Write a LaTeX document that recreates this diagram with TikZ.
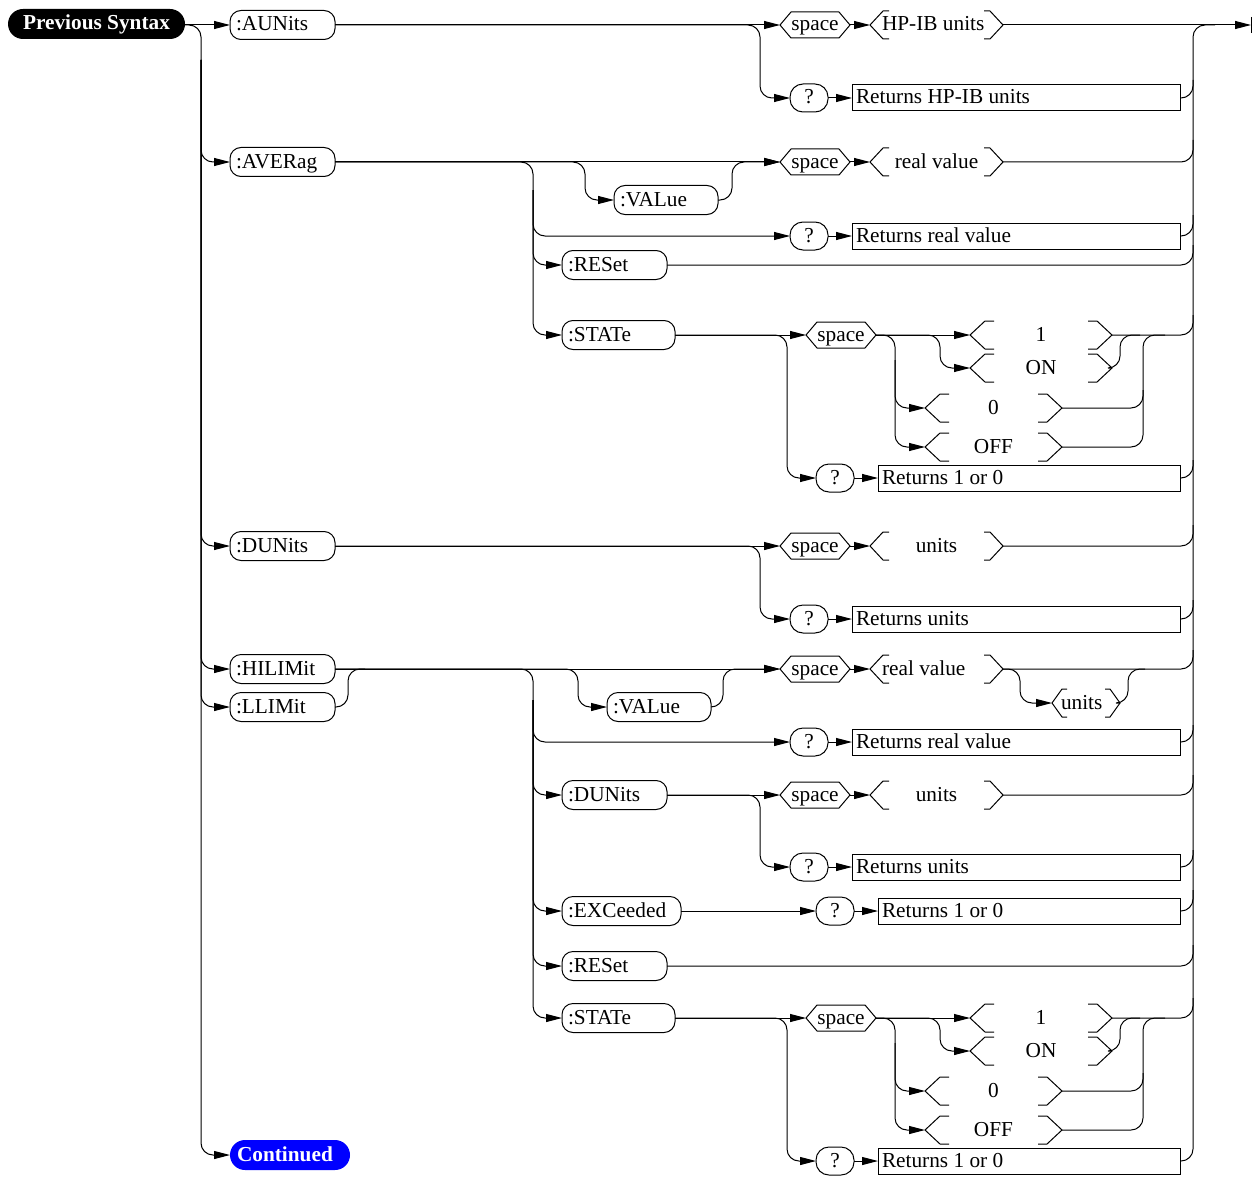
\documentclass[tikz,border=0pt]{standalone}
\usepackage{fontspec}
\setmainfont{Liberation Serif}
\usetikzlibrary{arrows.meta}
\newcommand\hexo[1]{\draw[ln] (#1.west) -- ([xshift=11pt]#1.north west) -- ([xshift=-11pt]#1.north east) -- (#1.east) -- ([xshift=-11pt]#1.south east) -- ([xshift=11pt]#1.south west) -- cycle;}
\newcommand\brkt[3]{%
 \draw[ln] ([xshift=#3pt]#1.north west) -- ([xshift=#2pt]#1.north west) -- (#1.west) -- ([xshift=#2pt]#1.south west) -- ([xshift=#3pt]#1.south west);
 \draw[ln] ([xshift=-#3pt]#1.north east) -- ([xshift=-#2pt]#1.north east) -- (#1.east) -- ([xshift=-#2pt]#1.south east) -- ([xshift=-#3pt]#1.south east);}
\begin{document}
\begin{tikzpicture}[x=1pt,y=-1pt,
  every node/.style={outer sep=0pt, text height=16pt, text depth=4pt, font=\fontsize{21.3}{24}\selectfont},
  ln/.style={line width=1pt},
  conn/.style={ln, rounded corners=12pt},
  arr/.style={conn, -{Triangle[length=16pt,width=8pt]}},
  pill/.style={draw, ln, rounded corners=11pt, minimum height=29pt, inner xsep=6pt, inner ysep=0pt, text width=#1, align=flush left, anchor=west},
  qpill/.style={draw, ln, rounded corners=13pt, minimum width=38pt, minimum height=28pt, inner sep=0pt, anchor=west},
  rbox/.style={draw, ln, minimum height=26pt, inner xsep=4pt, inner ysep=0pt, text width=#1, align=flush left, anchor=west},
  hexbox/.style={minimum width=70pt, minimum height=26pt, inner sep=0pt, anchor=west},
  brk/.style={minimum height=28pt, inner xsep=12pt, inner ysep=0pt, text width=#1, anchor=west},
  headpill/.style={rounded corners=15pt, minimum height=30pt, inner sep=0pt, text=white, font=\bfseries\fontsize{21.3}{24}\selectfont}
]
\useasboundingbox (0,0) rectangle (1257,1177);

% ---------- left column
\node[headpill, fill=black, minimum width=177pt] (ps) at (96.5,24) {Previous Syntax};
\node[pill=93pt] (aunits) at (230,25) {:AUNits};
\node[pill=93pt] (averag) at (230,162) {:AVERag};
\node[pill=93pt] (dunits) at (230,546) {:DUNits};
\node[pill=93pt] (hilimit) at (230,669) {:HILIMit};
\node[pill=93pt] (llimit) at (230,707) {:LLIMit};
\node[headpill, fill=blue, text width=106pt, inner xsep=7pt, align=flush left, anchor=west] (cont) at (230,1155) {Continued};

\coordinate (lt) at (201,25);
\coordinate (lt2) at (201,60);
\draw[arr] (ps.east |- aunits.west) -- (aunits.west);
\draw[arr] (ps.east |- aunits.west) -- (lt) |- (cont.west);
\draw[arr] (lt2) |- (averag.west);
\draw[arr] (lt2) |- (dunits.west);
\draw[arr] (lt2) |- (hilimit.west);
\draw[arr] (lt2) |- (llimit.west);

% ---------- AUNits
\node[hexbox] (sp1) at (780,25) {space}; \hexo{sp1}
\node[brk=109pt, align=flush left] (hp) at (870,25) {HP-IB units}; \brkt{hp}{13}{19}
\node[qpill] (q1) at (790,98) {?};
\node[rbox=320pt] (b1) at (852,98) {Returns HP-IB units};
\coordinate (endc) at (1251,25);
\draw[arr] (aunits.east) -- (sp1.west);
\draw[arr] (aunits.east) -- (760,25) |- (q1.west);
\draw[arr] (sp1.east) -- (hp.west);
\draw[arr] (hp.east) -- (endc);
\draw[ln] (1251,17) -- (1251,33);
\draw[arr] (q1.east) -- (b1.west);
\draw[conn] (b1.east) -| (1193,80);

% ---------- AVERag
\node[hexbox] (sp2) at (780,162) {space}; \hexo{sp2}
\node[brk=109pt, align=flush center] (rv1) at (870,162) {real value}; \brkt{rv1}{13}{19}
\node[pill=92pt] (val1) at (614,200) {:VALue};
\node[qpill] (q2) at (790,236) {?};
\node[rbox=320pt] (b2) at (852,236) {Returns real value};
\node[pill=93pt] (res1) at (562,265) {:RESet};
\node[pill=101pt] (st1) at (562,335) {:STATe};
\draw[arr] (averag.east) -- (sp2.west);
\draw[arr] (averag.east) -- (585,162) |- (val1.west);
\draw[arr] (val1.east) -| (732,162) -- (sp2.west);
\draw[arr] (sp2.east) -- (rv1.west);
\draw[conn] (rv1.east) -| (1193,140);
\draw[arr] (averag.east) -- (533,162) |- (st1.west);
\draw[arr] (533,190) |- (q2.west);
\draw[arr] (q2.east) -- (b2.west);
\draw[conn] (b2.east) -| (1193,215);
\draw[arr] (533,190) |- (res1.west);
\draw[conn] (res1.east) -| (1193,245);

% ---------- STATe 1
\node[hexbox] (sp3) at (806,335) {space}; \hexo{sp3}
\node[brk=118pt, align=flush center] (one1) at (970,335) {1}; \brkt{one1}{15}{24}
\node[brk=118pt, align=flush center] (on1) at (970,368) {ON}; \brkt{on1}{15}{24}
\node[brk=113pt, align=flush center] (zero1) at (925,408) {0}; \brkt{zero1}{15}{24}
\node[brk=113pt, align=flush center] (off1) at (925,447) {OFF}; \brkt{off1}{15}{24}
\node[qpill] (q3) at (816,478) {?};
\node[rbox=294pt] (b3) at (878,478) {Returns 1 or 0};
\draw[arr] (st1.east) -- (sp3.west);
\draw[arr] (st1.east) -- (787,335) |- (q3.west);
\draw[arr] (q3.east) -- (b3.west);
\draw[conn] (b3.east) -| (1193,460);
\draw[arr] (sp3.east) -- (one1.west);
\draw[arr] (sp3.east) -- (940,335) |- (on1.west);
\draw[arr] (sp3.east) -- (895,335) |- (zero1.west);
\draw[arr] (895,360) |- (off1.west);
\draw[conn] (one1.east) -| (1193,315);
\draw[conn] (on1.east) -| (1120,335) -- (1140,335);
\draw[conn] (zero1.east) -| (1143,335) -- (1165,335);
\draw[conn] (off1.east) -| (1143,390);

% ---------- DUNits
\node[hexbox] (sp4) at (780,546) {space}; \hexo{sp4}
\node[brk=109pt, align=flush center] (un1) at (870,546) {units}; \brkt{un1}{13}{19}
\node[qpill] (q4) at (790,619) {?};
\node[rbox=320pt] (b4) at (852,619) {Returns units};
\draw[arr] (dunits.east) -- (sp4.west);
\draw[arr] (dunits.east) -- (760,546) |- (q4.west);
\draw[arr] (sp4.east) -- (un1.west);
\draw[conn] (un1.east) -| (1193,525);
\draw[arr] (q4.east) -- (b4.west);
\draw[conn] (b4.east) -| (1193,600);

% ---------- HILIMit / LLIMit
\node[hexbox] (sp5) at (780,669) {space}; \hexo{sp5}
\node[brk=109pt, align=flush left] (rv2) at (870,669) {real value}; \brkt{rv2}{13}{19}
\node[brk=50pt, inner xsep=9pt, align=flush left] (un3) at (1052,703) {units}; \brkt{un3}{10}{15}
\node[pill=92pt] (val2) at (607,707) {:VALue};
\node[qpill] (q5) at (790,742) {?};
\node[rbox=320pt] (b5) at (852,742) {Returns real value};
\node[pill=93pt] (du2) at (562,795) {:DUNits};
\node[hexbox] (sp6) at (780,795) {space}; \hexo{sp6}
\node[brk=109pt, align=flush center] (un4) at (870,795) {units}; \brkt{un4}{13}{19}
\node[qpill] (q6) at (790,867) {?};
\node[rbox=320pt] (b6) at (852,867) {Returns units};
\node[pill=107pt] (exc) at (562,911) {:EXCeeded};
\node[qpill] (q7) at (816,911) {?};
\node[rbox=294pt] (b7) at (878,911) {Returns 1 or 0};
\node[pill=93pt] (res2) at (562,966) {:RESet};
\node[pill=101pt] (st2) at (562,1018) {:STATe};

\draw[conn] (llimit.east) -| (348,669) -- (365,669);
\draw[arr] (hilimit.east) -- (sp5.west);
\draw[arr] (hilimit.east) -- (578,669) |- (val2.west);
\draw[arr] (val2.east) -| (723,669) -- (sp5.west);
\draw[arr] (sp5.east) -- (rv2.west);
\draw[conn] (rv2.east) -| (1193,650);
\draw[arr] (rv2.east) -- (1020,669) |- (un3.west);
\draw[conn] (un3.east) -| (1128,669) -- (1145,669);
\draw[arr] (hilimit.east) -- (533,669) |- (st2.west);
\draw[arr] (533,700) |- (q5.west);
\draw[arr] (q5.east) -- (b5.west);
\draw[conn] (b5.east) -| (1193,725);
\draw[arr] (533,700) |- (du2.west);
\draw[arr] (du2.east) -- (sp6.west);
\draw[arr] (du2.east) -- (760,795) |- (q6.west);
\draw[arr] (sp6.east) -- (un4.west);
\draw[conn] (un4.east) -| (1193,775);
\draw[arr] (q6.east) -- (b6.west);
\draw[conn] (b6.east) -| (1193,850);
\draw[arr] (533,700) |- (exc.west);
\draw[arr] (exc.east) -- (q7.west);
\draw[arr] (q7.east) -- (b7.west);
\draw[conn] (b7.east) -| (1193,890);
\draw[arr] (533,700) |- (res2.west);
\draw[conn] (res2.east) -| (1193,945);

% ---------- STATe 2
\node[hexbox] (sp7) at (806,1018) {space}; \hexo{sp7}
\node[brk=118pt, align=flush center] (one2) at (970,1018) {1}; \brkt{one2}{15}{24}
\node[brk=118pt, align=flush center] (on2) at (970,1051) {ON}; \brkt{on2}{15}{24}
\node[brk=113pt, align=flush center] (zero2) at (925,1091) {0}; \brkt{zero2}{15}{24}
\node[brk=113pt, align=flush center] (off2) at (925,1130) {OFF}; \brkt{off2}{15}{24}
\node[qpill] (q8) at (816,1161) {?};
\node[rbox=294pt] (b8) at (878,1161) {Returns 1 or 0};
\draw[arr] (st2.east) -- (sp7.west);
\draw[arr] (st2.east) -- (787,1018) |- (q8.west);
\draw[arr] (q8.east) -- (b8.west);
\draw[arr] (sp7.east) -- (one2.west);
\draw[arr] (sp7.east) -- (940,1018) |- (on2.west);
\draw[arr] (sp7.east) -- (895,1018) |- (zero2.west);
\draw[arr] (895,1043) |- (off2.west);
\draw[conn] (one2.east) -| (1193,998);
\draw[conn] (on2.east) -| (1120,1018) -- (1140,1018);
\draw[conn] (zero2.east) -| (1143,1018) -- (1165,1018);
\draw[conn] (off2.east) -| (1143,1073);

% ---------- right trunk
\draw[conn] (1215,25) -| (1193,1161) -- (b8.east);
\end{tikzpicture}
\end{document}
